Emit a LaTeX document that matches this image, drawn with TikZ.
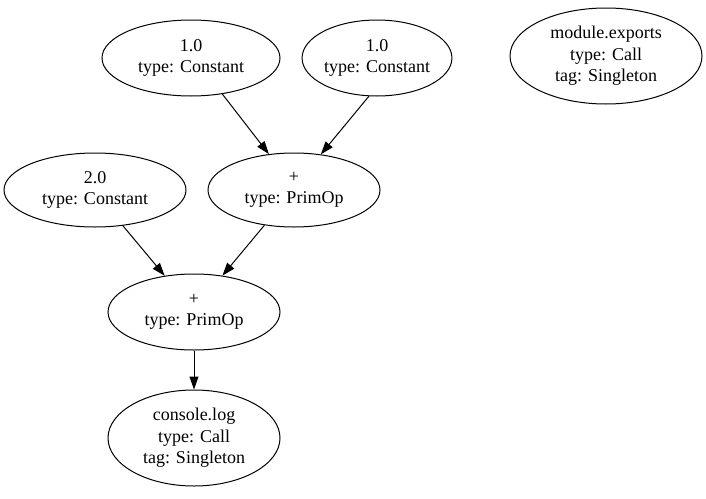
\documentclass[tikz,border=0pt]{standalone}
\usepackage{fontspec}
\setmainfont{Liberation Serif}
\usetikzlibrary{shapes.geometric,arrows.meta}
\tikzset{
  gnode/.style={draw, ellipse, line width=1pt, inner sep=0pt, align=center,
    font=\fontsize{18}{21.5}\selectfont},
  gedge/.style={draw, line width=1pt, -{Triangle[length=13pt,width=9pt]}}
}
\begin{document}
\begin{tikzpicture}[x=1pt,y=-1pt]
\useasboundingbox (0,0) rectangle (706,498);
\node[gnode, minimum width=178pt, minimum height=76pt] (c1) at (191,58) {1.0\\type: Constant};
\node[gnode, minimum width=142pt, minimum height=76pt] (c2) at (377,58) {1.0\\type: Constant};
\node[gnode, minimum width=192pt, minimum height=96pt] (me) at (606,56) {module.exports\\type: Call\\tag: Singleton};
\node[gnode, minimum width=182pt, minimum height=74pt] (c3) at (95,190) {2.0\\type: Constant};
\node[gnode, minimum width=172pt, minimum height=74pt] (p1) at (294,190) {+\\type: PrimOp};
\node[gnode, minimum width=172pt, minimum height=76pt] (p2) at (194,312) {+\\type: PrimOp};
\node[gnode, minimum width=172pt, minimum height=96pt] (cl) at (194,438) {console.log\\type: Call\\tag: Singleton};
\path[gedge] (c1.-49) -- (p1.125);
\path[gedge] (c2.-102) -- (p1.53);
\path[gedge] (c3.-52) -- (p2.129);
\path[gedge] (p1.-130) -- (p2.52);
\path[gedge] (p2.south) -- (cl.north);
\end{tikzpicture}
\end{document}
